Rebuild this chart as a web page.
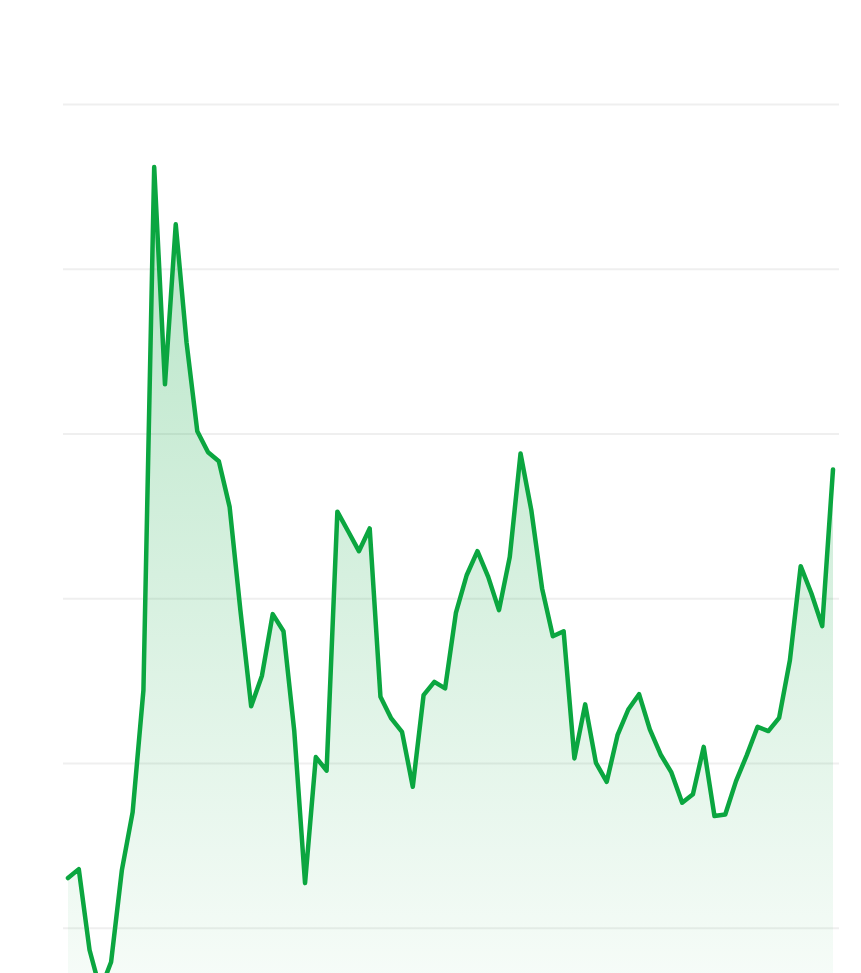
<!DOCTYPE html>
<html>
<head>
<meta charset="utf-8">
<script src="https://cdn.jsdelivr.net/npm/d3@7"></script>
<style>
  html, body { margin: 0; padding: 0; background: #fff; overflow: hidden; }
  svg { display: block; }
</style>
</head>
<body>
<div id="chart"></div>
<script>
// one value per period
var values = [
  13.05, 13.59, 8.68, 6.25, 7.95, 13.53, 17.05, 24.45, 56.21, 43.02,
  52.73, 45.57, 40.17, 38.90, 38.35, 35.58, 29.31, 23.48, 25.33, 29.07,
  28.03, 21.97, 12.74, 20.39, 19.57, 35.29, 34.10, 32.89, 34.27, 24.05,
  22.74, 21.92, 18.59, 24.15, 24.96, 24.56, 29.14, 31.43, 32.89, 31.33,
  29.31, 32.54, 38.82, 35.38, 30.63, 27.73, 28.03, 20.31, 23.59, 20.04,
  18.89, 21.72, 23.28, 24.21, 22.07, 20.55, 19.46, 17.62, 18.13, 21.01,
  16.81, 16.91, 18.93, 20.51, 22.23, 21.97, 22.77, 26.27, 31.98, 30.32,
  28.34, 37.85
]

var gridTicks = [0, 10, 20, 30, 40, 50, 60]

var width = 861
var height = 973
var margin = { left: 63, right: 22 }

var svg = d3
  .select('#chart')
  .append('svg')
  .attr('width', width)
  .attr('height', height)

var xScale = d3
  .scaleLinear()
  .domain([0, values.length - 1])
  .range([68, 833])

var yScale = d3
  .scaleLinear()
  .domain([0, 60])
  .range([1093, 104.6])

var defs = svg.append('defs')
var grad = defs
  .append('linearGradient')
  .attr('id', 'fill-grad')
  .attr('x1', 0)
  .attr('y1', 0)
  .attr('x2', 0)
  .attr('y2', 1)
grad.append('stop').attr('offset', '0%').attr('stop-color', '#0ba640').attr('stop-opacity', 0.3)
grad.append('stop').attr('offset', '100%').attr('stop-color', '#0ba640').attr('stop-opacity', 0)

svg
  .selectAll('.grid')
  .data(gridTicks)
  .enter()
  .append('line')
  .attr('class', 'grid')
  .attr('x1', margin.left)
  .attr('x2', width - margin.right)
  .attr('y1', d => yScale(d))
  .attr('y2', d => yScale(d))
  .attr('stroke', '#efefef')
  .attr('stroke-width', 2)

var area = d3
  .area()
  .x((d, i) => xScale(i))
  .y0(yScale(0))
  .y1(d => yScale(d))

var line = d3
  .line()
  .x((d, i) => xScale(i))
  .y(d => yScale(d))

svg
  .append('path')
  .datum(values)
  .attr('d', area)
  .attr('fill', 'url(#fill-grad)')

svg
  .append('path')
  .datum(values)
  .attr('d', line)
  .attr('fill', 'none')
  .attr('stroke', '#0ba640')
  .attr('stroke-width', 4.5)
  .attr('stroke-linejoin', 'round')
  .attr('stroke-linecap', 'round')
</script>
</body>
</html>
